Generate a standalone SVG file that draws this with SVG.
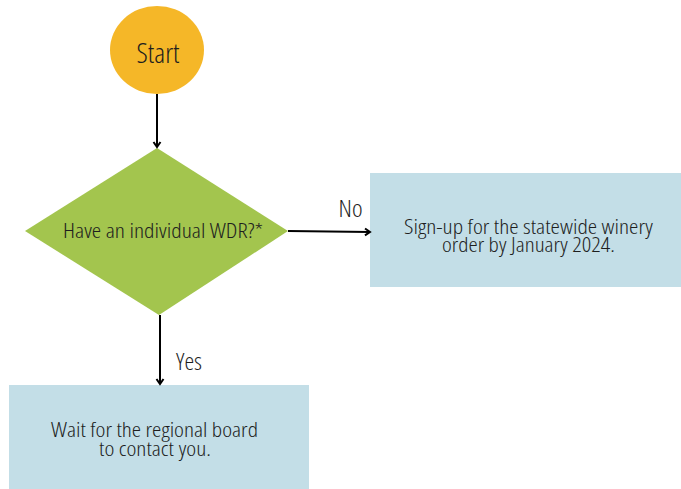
<svg xmlns="http://www.w3.org/2000/svg" width="681" height="489" viewBox="0 0 681 489">
<style>
text{font-family:"Open Sans","Liberation Sans",sans-serif;font-stretch:condensed;font-weight:300;fill:#1e1e1e;text-anchor:middle;}
.edge{stroke:#000;stroke-width:2;fill:none;}
.box{fill:#C3DEE7;}
</style>
<defs>
<marker id="ah" markerWidth="10" markerHeight="10" refX="7" refY="5" orient="auto" markerUnits="userSpaceOnUse">
<path d="M2,1.5 L7,5 L2,8.5" fill="none" stroke="#000" stroke-width="2"/>
</marker>
</defs>
<g id="start">
<ellipse cx="157" cy="50" rx="47" ry="44" fill="#F5B728"/>
<text x="158" y="63" font-size="28" textLength="43" lengthAdjust="spacingAndGlyphs">Start</text>
</g>
<g id="decision">
<polygon points="157,148 288,231 159,315 25,231" fill="#A3C54E"/>
<text x="163" y="238" font-size="21" textLength="200" lengthAdjust="spacingAndGlyphs">Have an individual WDR?*</text>
</g>
<g id="signup">
<rect class="box" x="370" y="173" width="311" height="114"/>
<text x="528.5" y="234" font-size="21" textLength="249" lengthAdjust="spacingAndGlyphs">Sign-up for the statewide winery</text>
<text x="528.5" y="252" font-size="21" textLength="173" lengthAdjust="spacingAndGlyphs">order by January 2024.</text>
</g>
<g id="wait">
<rect class="box" x="9" y="385" width="300" height="104"/>
<text x="154.5" y="437" font-size="21" textLength="207" lengthAdjust="spacingAndGlyphs">Wait for the regional board</text>
<text x="155" y="456" font-size="21" textLength="112" lengthAdjust="spacingAndGlyphs">to contact you.</text>
</g>
<g id="connectors">
<line class="edge" x1="157" y1="94" x2="157" y2="147" marker-end="url(#ah)"/>
<line class="edge" x1="288" y1="231" x2="370" y2="232" marker-end="url(#ah)"/>
<text x="350.5" y="217" font-size="24" textLength="24" lengthAdjust="spacingAndGlyphs">No</text>
<line class="edge" x1="160" y1="315" x2="160" y2="384" marker-end="url(#ah)"/>
<text x="189" y="370" font-size="24" textLength="26" lengthAdjust="spacingAndGlyphs">Yes</text>
</g>
</svg>
